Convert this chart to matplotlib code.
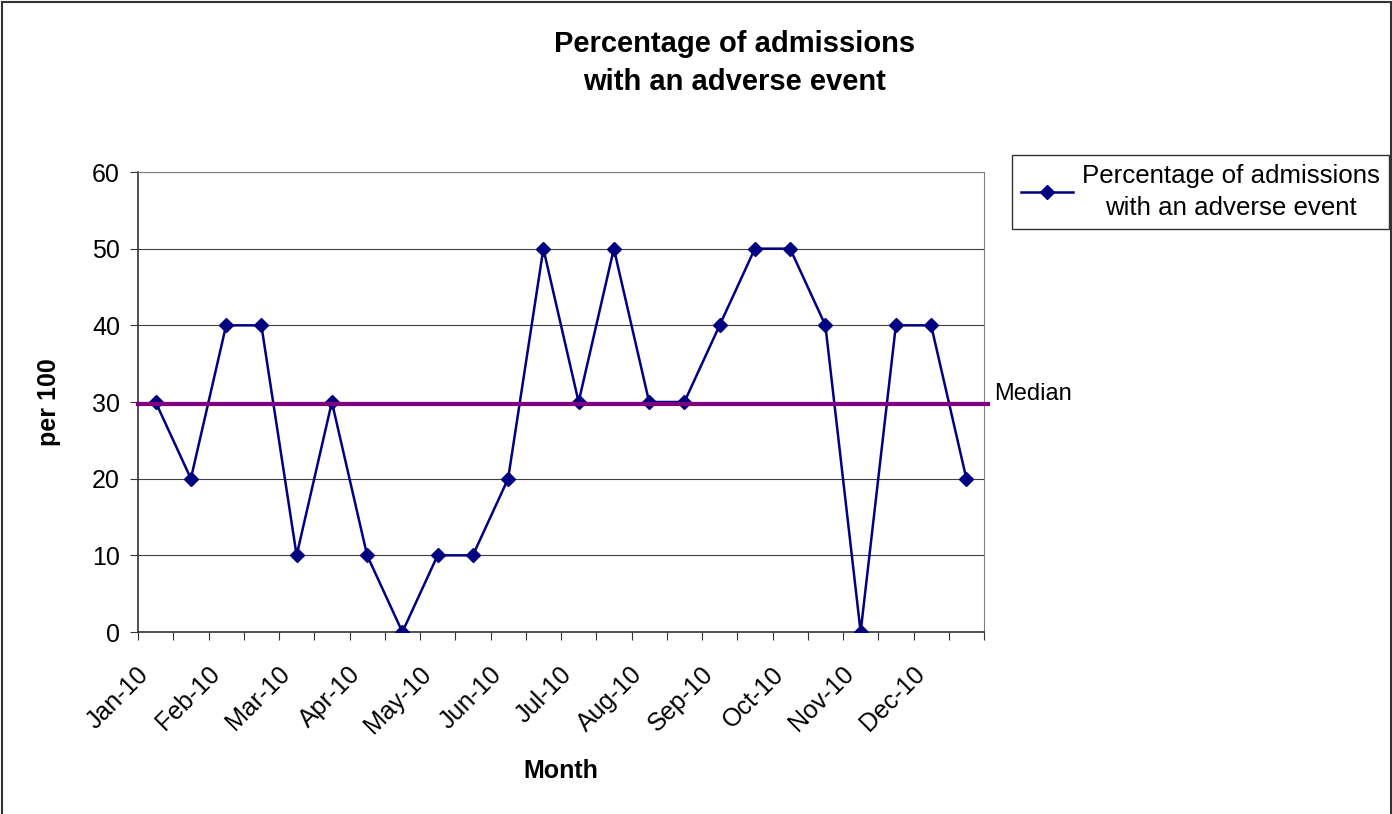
"""
Run chart: percentage of admissions with an adverse event, with median line
"""
import matplotlib
matplotlib.use('Agg')
import matplotlib.pyplot as plt
from matplotlib.patches import Rectangle
from matplotlib.transforms import ScaledTranslation

plt.rcParams['font.family'] = ['Liberation Sans', 'DejaVu Sans']

# Data (two points per month)
values = [30, 20, 40, 40, 10, 30, 10, 0, 10, 10, 20, 50,
          30, 50, 30, 30, 40, 50, 50, 40, 0, 40, 40, 20]
month_labels = ['Jan-10', 'Feb-10', 'Mar-10', 'Apr-10', 'May-10', 'Jun-10',
                'Jul-10', 'Aug-10', 'Sep-10', 'Oct-10', 'Nov-10', 'Dec-10']
median_value = 29.8
y_ticks = [0, 10, 20, 30, 40, 50, 60]

W, H = 1392, 814
fig = plt.figure(figsize=(W / 100, H / 100), dpi=100)
ax = fig.add_axes([138 / W, 1 - 632 / H, (984 - 138) / W, (632 - 172) / H])

x = list(range(len(values)))
line, = ax.plot(x, values, color='#000080', lw=1.8, marker='D', markersize=7.5,
                markerfacecolor='#000080', markeredgecolor='#000080',
                label='Percentage of admissions\nwith an adverse event', zorder=3)

# Median line (runs slightly past the plot area, like Excel)
ax.plot([-0.5, len(values) - 0.5 + 0.12], [median_value, median_value],
        color='#800080', lw=3, clip_on=False, zorder=4)
ax.text(len(values) - 0.5 + 0.3, median_value + 1.3, 'Median', fontsize=17,
        ha='left', va='center')

ax.set_xlim(-0.5, len(values) - 0.5)
ax.set_ylim(0, 60)
ax.set_yticks(y_ticks)
ax.yaxis.grid(True, color='#404040', lw=0.8)
ax.set_axisbelow(True)

# category boundary ticks, labels every two categories
ax.set_xticks([i - 0.5 for i in range(len(values) + 1)])
ax.set_xticklabels([])
ax.set_xticks(list(range(0, len(values), 2)), minor=True)
ax.set_xticklabels(month_labels, minor=True, rotation=45, ha='right',
                   rotation_mode='anchor', fontsize=18)
ax.tick_params(axis='x', which='minor', length=0, pad=18)
ax.tick_params(axis='x', which='major', length=6, direction='out', color='#333333')
ax.tick_params(axis='y', length=6, direction='out', color='#333333', labelsize=18, pad=7)
shift = ScaledTranslation(-0.19, -0.05, fig.dpi_scale_trans)
for lbl in ax.get_xticklabels(minor=True):
    lbl.set_transform(lbl.get_transform() + shift)

for s in ['top', 'right']:
    ax.spines[s].set_color('#808080')
for s in ['left', 'bottom']:
    ax.spines[s].set_color('#333333')
    ax.spines[s].set_linewidth(1.2)

ax.set_xlabel('Month', fontsize=18, fontweight='bold', labelpad=15)
ax.set_ylabel('per 100', fontsize=18, fontweight='bold', labelpad=22)

fig.text(735 / W, 1 - 63 / H, 'Percentage of admissions\nwith an adverse event',
         ha='center', va='center', fontsize=21, fontweight='bold', linespacing=1.45)

leg = ax.legend(handles=[line], loc='upper left',
                bbox_to_anchor=(1012 / W, 1 - 155 / H), bbox_transform=fig.transFigure,
                fontsize=18.6, frameon=True, fancybox=False, edgecolor='black',
                borderpad=0.35, handlelength=2.0, handletextpad=0.35, borderaxespad=0)
leg.get_frame().set_linewidth(1.0)
for t in leg.get_texts():
    t.set_multialignment('center')
    t.set_linespacing(1.4)

# outer chart border
fig.patches.append(Rectangle((2 / W, -0.01), (W - 3) / W, 1 - 2 / H + 0.01,
                             transform=fig.transFigure, fill=False,
                             edgecolor='#333333', lw=1.5))

fig.savefig('out.png', dpi=100)
